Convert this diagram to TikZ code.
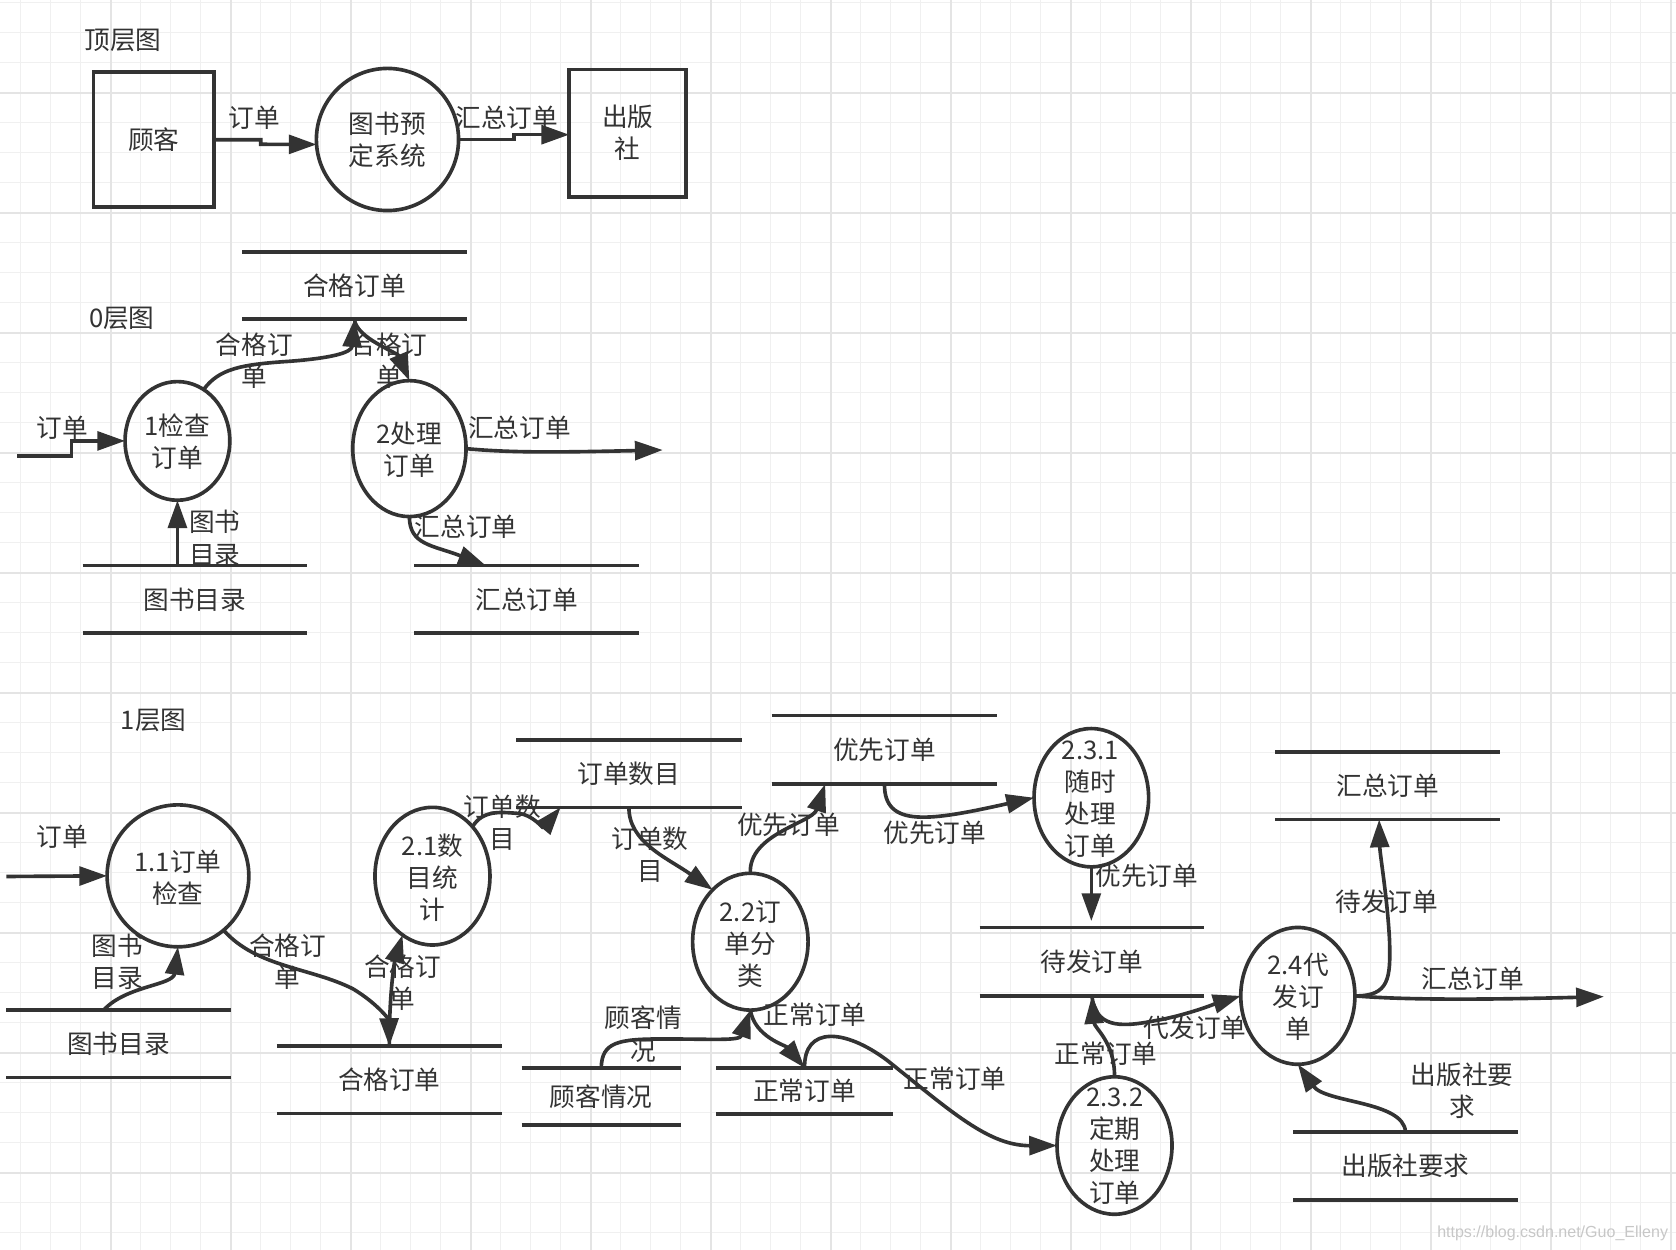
\documentclass[tikz,border=0pt]{standalone}
\usepackage{fontspec}
\setmainfont{Noto Sans CJK SC}
\newfontfamily\wmfont{Liberation Sans}
\usetikzlibrary{shapes.geometric,arrows.meta,calc}
\definecolor{dk}{HTML}{333333}
\definecolor{gminor}{HTML}{F0F0F0}
\definecolor{gmajor}{HTML}{E4E4E4}
\newcommand{\dstore}[6]{%
  \node[minimum width=#4*0.5pt, minimum height=#5*0.5pt] (#1) at (#2,#3) {#6};
  \draw[sline] (#1.north west) -- (#1.north east) (#1.south west) -- (#1.south east);}
\begin{document}
\begin{tikzpicture}[x=0.5pt,y=-0.5pt,
  every node/.style={text=dk, font=\fontsize{12}{15}\selectfont, inner sep=0pt, outer sep=0pt, align=center},
  proc/.style={draw=dk, line width=1.7pt, ellipse},
  ent/.style={draw=dk, line width=1.8pt, rectangle},
  flow/.style={draw=dk, line width=1.7pt, -{Triangle[length=13pt,width=8.8pt]}},
  sline/.style={draw=dk, line width=1.7pt},
  gmin/.style={draw=gminor, line width=0.5pt},
  gmaj/.style={draw=gmajor, line width=0.8pt}]
% background and grid
\fill[white] (0,0) rectangle (1568,1169.45);
\useasboundingbox (0,0) rectangle (1568,1169.45);
\foreach \k in {0,...,55} {\draw[gmin] ({19.37+28.066*\k},0) -- ({19.37+28.066*\k},1169.45);}
\foreach \k in {0,...,41} {\draw[gmin] (0,{2.53+28.066*\k}) -- (1568,{2.53+28.066*\k});}
\foreach \k in {0,...,13} {\draw[gmaj] ({103.57+112.264*\k},0) -- ({103.57+112.264*\k},1169.45);}
\foreach \k in {0,...,9} {\draw[gmaj] (0,{86.73+112.264*\k}) -- (1568,{86.73+112.264*\k});}

% ---------- top level ----------
\node (t0) at (115,37.5) {顶层图};
\node[ent, minimum width=56.5pt, minimum height=63.25pt] (cust) at (144,130.75) {顾客};
\node[proc, minimum width=66.5pt, minimum height=66.5pt] (sys) at (362.5,130.5) {};
\node (systx) at (362.5,131) {图书预\\定系统};
\node[ent, minimum width=54.75pt, minimum height=59.5pt] (pub) at (587.25,124.5) {出版\\社};
\draw[flow] (cust.east) -- (244,130.75) -- (244,135) -- (sys.184);
\draw[flow] (sys.east) -- (481,130.5) -- (481,126) -- (pub.west |- 481,126);
\node (l01) at (238,110) {订单};
\node (l02) at (474,110) {汇总订单};

% ---------- level 0 ----------
\node (t1) at (114,297.6) {0层图};
\dstore{s0a}{331.6}{267.1}{209.8}{63.2}{合格订单}
\dstore{s0b}{182.3}{560.75}{210}{63.1}{图书目录}
\dstore{s0c}{492.8}{560.75}{210.4}{63.1}{汇总订单}
\node[proc, minimum width=49pt, minimum height=55.5pt] (p1) at (166,412.5) {};
\node (p1tx) at (166,413.5) {1检查\\订单};
\node[proc, minimum width=53pt, minimum height=63.6pt] (p2) at (383,419.7) {};
\node (p2tx) at (383,421) {2处理\\订单};
\coordinate (in0) at (16,426.5);
\coordinate (out0) at (620,421);
\draw[flow] (in0) -- (67,426.5) -- (67,412.5) -- (p1.west);
\draw[flow] (p1.63) .. controls (205,345) and (225,341) .. (271,338) .. controls (310,335) and (329,330) .. (s0a.south);
\draw[flow] (s0a.south) .. controls (333,316) and (372,330) .. (p2.north);
\draw[flow] (p2.east) .. controls (480,424) and (530,423) .. (out0);
\draw[flow] (p2.south) .. controls (383,510) and (405,510) .. ($(s0c.north west)+(67,0)$);
\draw[flow] (p1 |- s0b.north) -- (p1.south);
\node (l11) at (58.5,400.5) {订单};
\node (l12) at (238,337.5) {合格订\\单};
\node (l13) at (364,337.5) {合格订\\单};
\node (l14) at (486,400.5) {汇总订单};
\node (l15) at (436,492.7) {汇总订单};
\node (l16) at (201,503.6) {图书\\目录};

% ---------- level 1 ----------
\node (t2) at (143.7,673.6) {1层图};
\dstore{s1a}{111}{976.5}{210}{63}{图书目录}
\dstore{s1b}{364.25}{1010.1}{210.5}{63}{合格订单}
\dstore{s1c}{588.4}{723.8}{211.2}{63}{订单数目}
\dstore{s1d}{827.5}{701.5}{211}{63.9}{优先订单}
\dstore{s1e}{1021.5}{899.75}{210}{64.1}{待发订单}
\dstore{s1f}{562.5}{1025.75}{149}{53.5}{顾客情况}
\dstore{s1g}{752.75}{1020.5}{165.5}{43}{正常订单}
\dstore{s1h}{1298.25}{735}{210.5}{63.5}{汇总订单}
\dstore{s1i}{1314.9}{1090.7}{210.2}{63.8}{出版社要求}

\node[proc, minimum width=66.3pt, minimum height=66.4pt] (p11) at (166.5,819.4) {};
\node (p11tx) at (166.5,821) {1.1订单\\检查};
\node[proc, minimum width=53.8pt, minimum height=64.4pt] (p21) at (404.6,819.7) {};
\node (p21tx) at (404.6,821) {2.1数\\目统\\计};
\node[proc, minimum width=54pt, minimum height=64pt] (p22) at (702,881) {};
\node (p22tx) at (702,883.5) {2.2订\\单分\\类};
\node[proc, minimum width=53.6pt, minimum height=64.7pt] (p231) at (1021,746.3) {};
\node (p231tx) at (1020,747.5) {2.3.1\\随时\\处理\\订单};
\node[proc, minimum width=53.8pt, minimum height=64.3pt] (p232) at (1042.7,1071.7) {};
\node (p232tx) at (1043,1072.5) {2.3.2\\定期\\处理\\订单};
\node[proc, minimum width=53.4pt, minimum height=64pt] (p24) at (1214.2,931.7) {};
\node (p24tx) at (1214.5,933) {2.4代\\发订\\单};

\coordinate (in1) at (6,820);
\coordinate (out1) at (1500.6,932.4);
\draw[flow] (in1) -- (p11.west);
\draw[flow] ($(s1a.north)+(-14,0)$) .. controls (118,922) and (162,922) .. (p11.south);
\draw[flow] (p11.-50) .. controls (240,905) and (290,905) .. (330,925) .. controls (355,940) and (364,955) .. (s1b.north);
\draw[flow] (s1b.north) .. controls (364,930) and (369,900) .. (p21.243);
\draw[flow] (p21.51) .. controls (452,757) and (470,760) .. (485,761) .. controls (498,762) and (508,775) .. ($(s1c.south west)+(41.7,0)$);
\draw[flow] (s1c.south) .. controls (588,788) and (625,803) .. (p22.126);
\draw[flow] (p22.north) .. controls (700,780) and (760,770) .. ($(s1d.south west)+(50,0)$);
\draw[flow] (s1d.south) .. controls (827,775) and (870,768) .. (p231.west);
\draw[flow] (p231.south) -- ($(p231.south |- s1e.north)+(0,-6)$);
\draw[flow] (s1f.north) .. controls (563,975) and (578,972) .. (620,972) .. controls (668,972) and (692,974) .. (p22.south);
\draw[flow] (p22.south) .. controls (706,970) and (735,978) .. (s1g.north);
\draw[flow] (s1g.north) .. controls (752,960) and (790,962) .. (830,992) .. controls (890,1040) and (925,1072) .. (p232.west);
\draw[flow] (p232.north) .. controls (1043,975) and (1024,962) .. (s1e.south);
\draw[flow] (s1e.south) .. controls (1025,960) and (1045,962) .. (1080,955) .. controls (1110,950) and (1140,938) .. (p24.west);
\draw[flow] (p24.east) .. controls (1300,932) and (1301,915) .. (1300,880) .. controls (1298,840) and (1291,800) .. ($(s1h.south)+(-8,0)$);
\draw[flow] (p24.east) .. controls (1320,936) and (1400,935) .. (out1);
\draw[flow] (s1i.north) .. controls (1313,1030) and (1240,1032) .. (p24.south);

\node (l21) at (58.5,782.7) {订单};
\node (l22) at (110,900) {图书\\目录};
\node (l23) at (269,900) {合格订\\单};
\node (l24) at (376.6,919) {合格订\\单};
\node (l25) at (470,769.5) {订单数\\目};
\node (l26) at (608,800) {订单数\\目};
\node (l27) at (737.6,771.8) {优先订单};
\node (l28) at (874.6,779.6) {优先订单};
\node (l29) at (1073,819) {优先订单};
\node (l30) at (602,967.5) {顾客情\\况};
\node (l31) at (762.5,949.6) {正常订单};
\node (l32) at (893.5,1008.8) {正常订单};
\node (l33) at (1034.8,986) {正常订单};
\node (l34) at (1118,961.3) {代发订单};
\node (l35) at (1297.3,843.5) {待发订单};
\node (l36) at (1378,915.3) {汇总订单};
\node (l37) at (1368,1020.5) {出版社要\\求};

\node[text=black!22, font=\wmfont\fontsize{7.5}{9}\selectfont] (wm) at (1452.6,1153.6) {https://blog.csdn.net/Guo\_Elleny};
\end{tikzpicture}
\end{document}
